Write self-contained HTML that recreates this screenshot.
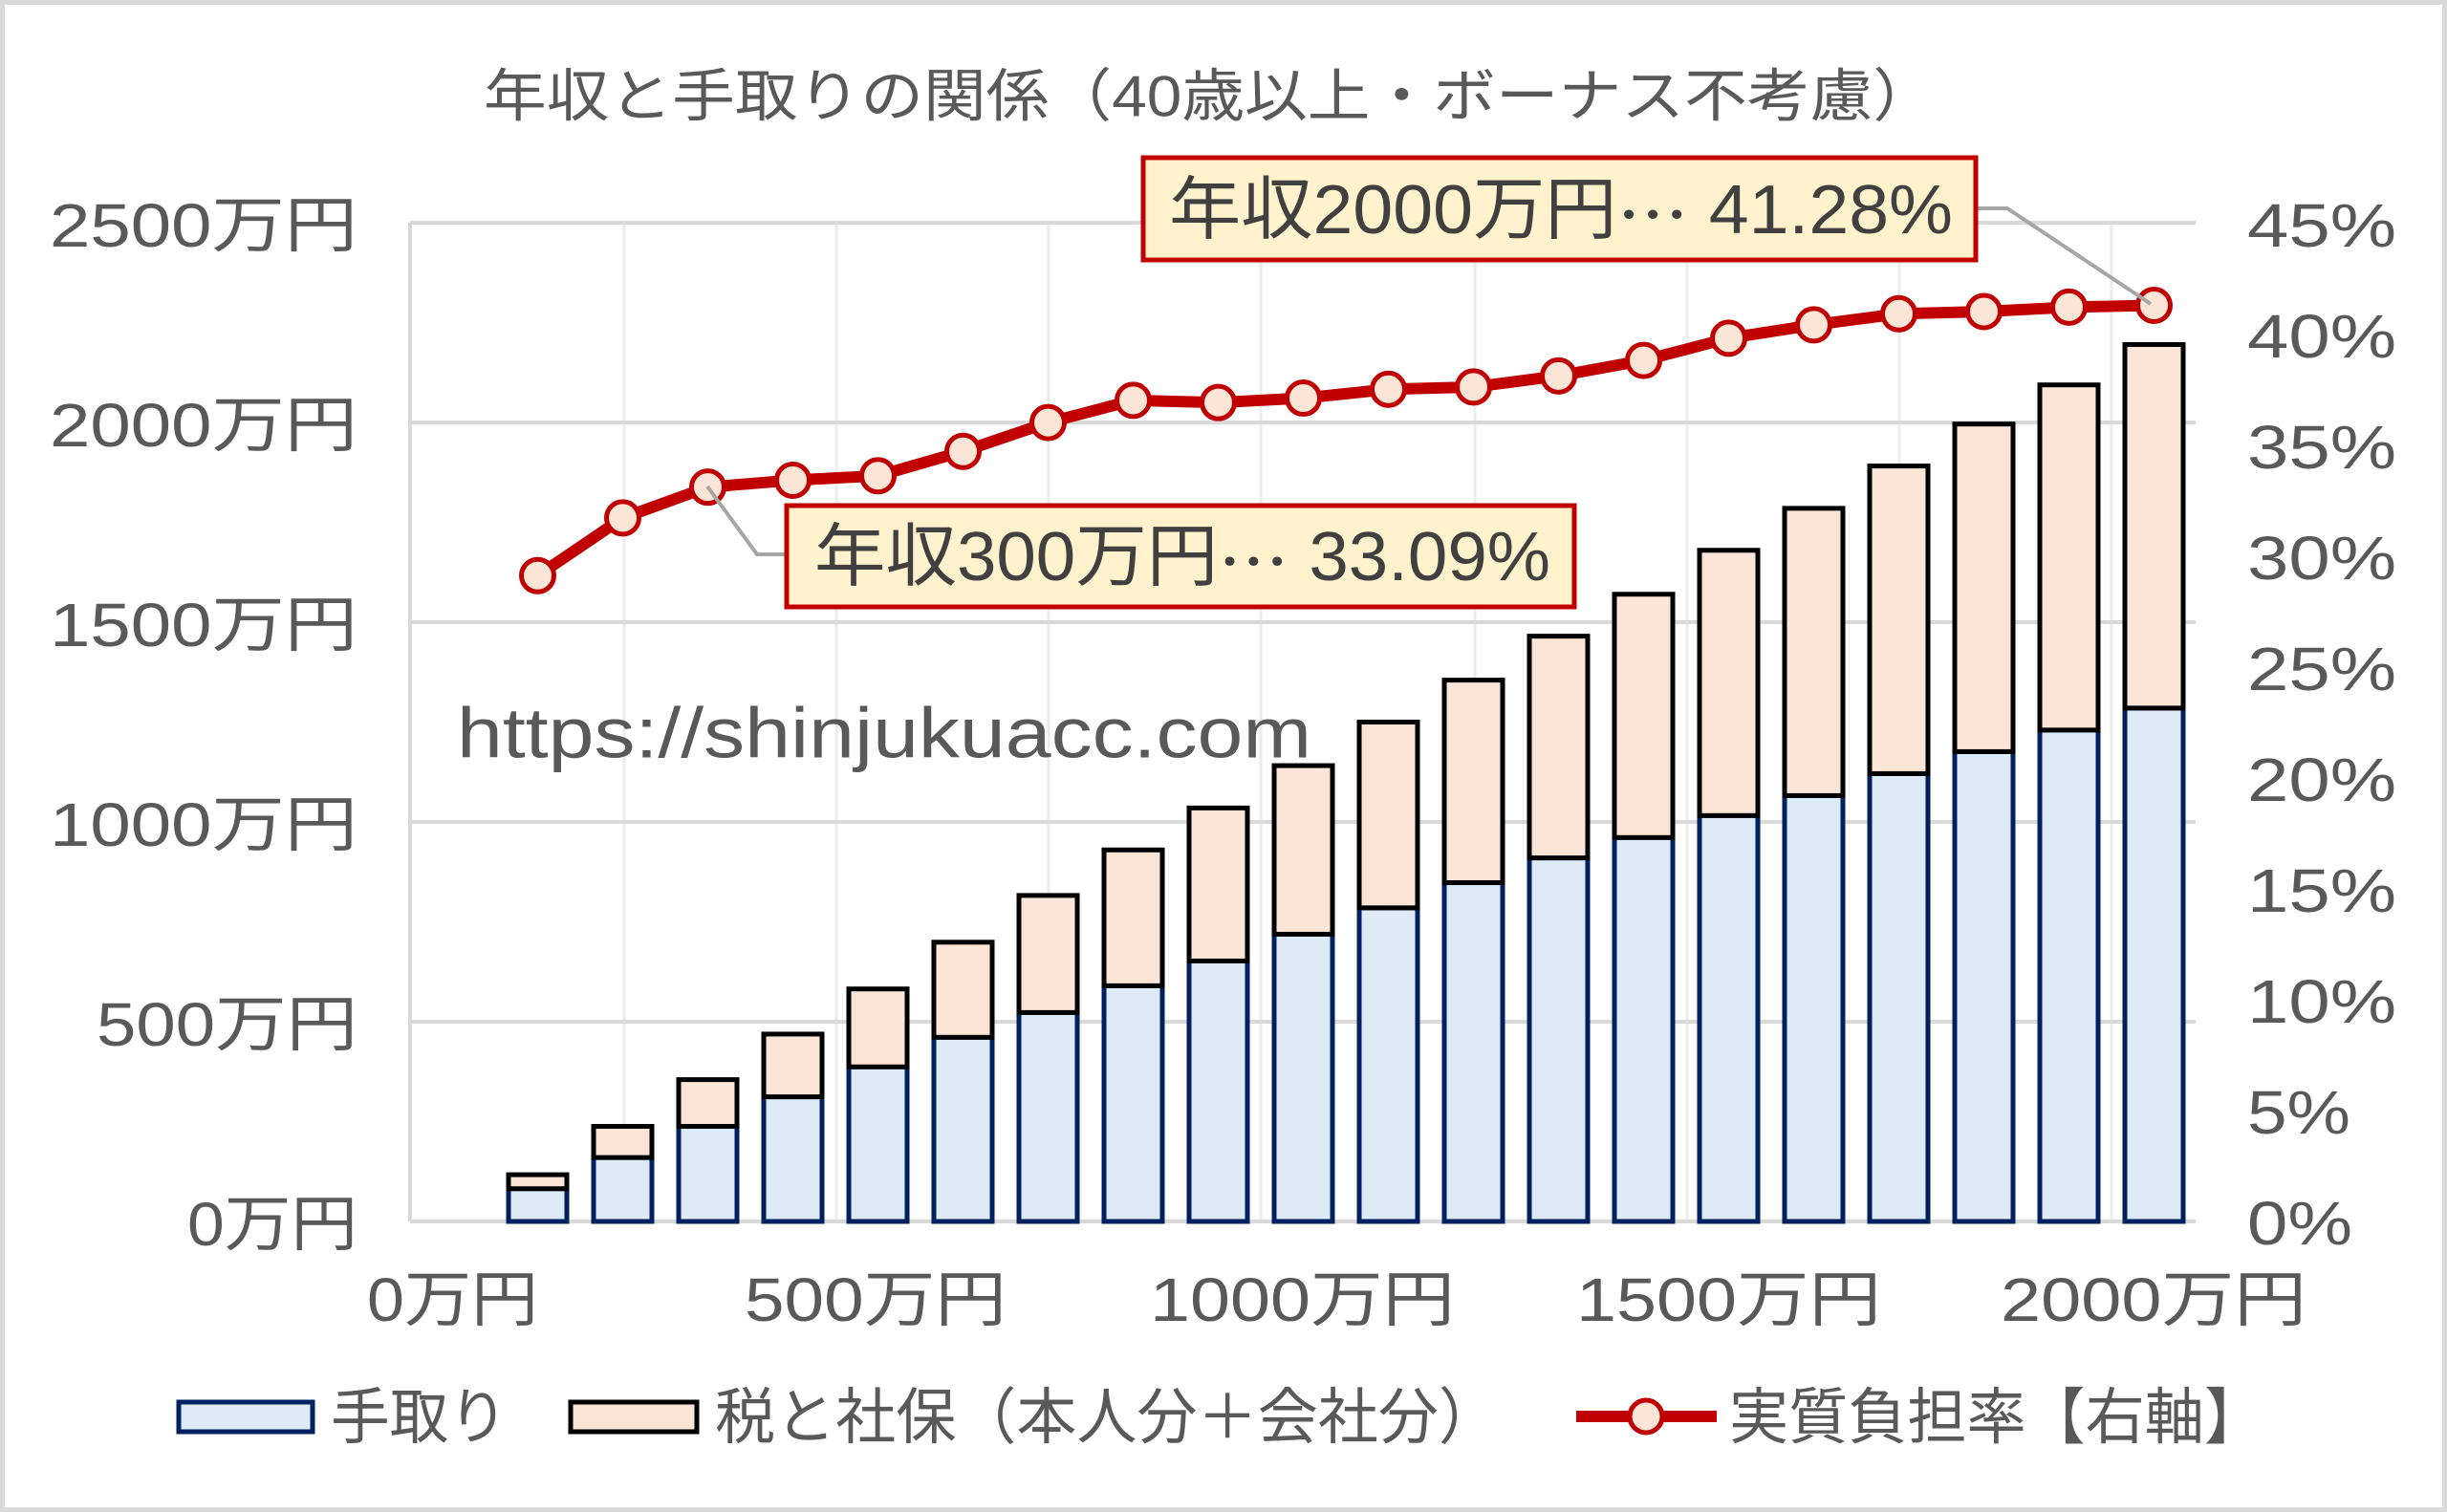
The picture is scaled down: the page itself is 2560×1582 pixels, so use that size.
<!DOCTYPE html>
<html><head><meta charset="utf-8"><style>
html,body{margin:0;padding:0;background:#fff;}
svg{display:block;}
text{font-family:"Liberation Sans","Noto Sans CJK JP",sans-serif;fill:#595959;}
.cjk{font-family:"Noto Sans CJK JP",sans-serif;}
</style></head><body>
<svg width="2560" height="1582" viewBox="0 0 2560 1582" xmlns="http://www.w3.org/2000/svg">
<rect x="2.5" y="2.5" width="2555" height="1577" fill="#fff" stroke="#d9d9d9" stroke-width="5"/>
<g stroke="#ececec" stroke-width="3">
<line x1="653" y1="233" x2="653" y2="1278"/><line x1="875" y1="233" x2="875" y2="1278"/>
<line x1="1097" y1="233" x2="1097" y2="1278"/><line x1="1319" y1="233" x2="1319" y2="1278"/>
<line x1="1543" y1="233" x2="1543" y2="1278"/><line x1="1765" y1="233" x2="1765" y2="1278"/>
<line x1="1987" y1="233" x2="1987" y2="1278"/><line x1="2209" y1="233" x2="2209" y2="1278"/>
</g>
<g stroke="#d9d9d9" stroke-width="4">
<line x1="429" y1="233" x2="2297" y2="233"/><line x1="429" y1="442" x2="2297" y2="442"/>
<line x1="429" y1="651" x2="2297" y2="651"/><line x1="429" y1="860" x2="2297" y2="860"/>
<line x1="429" y1="1069" x2="2297" y2="1069"/><line x1="429" y1="1278" x2="2297" y2="1278"/>
<line x1="429" y1="233" x2="429" y2="1278"/>
</g>
<g id="bars"></g>
<g id="line"></g>
<polyline points="740,509 792,580 821,580" fill="none" stroke="#a6a6a6" stroke-width="4"/>
<polyline points="2069,218 2100,218 2250,318" fill="none" stroke="#a6a6a6" stroke-width="4"/>
<rect x="1196" y="165" width="871" height="107" fill="#FFF2CC" stroke="#C00000" stroke-width="5"/>
<text x="1223" y="220" font-size="72" dominant-baseline="central" textLength="820" lengthAdjust="spacingAndGlyphs" style="fill:#404040">年収2000万円<tspan class="cjk">…</tspan> 41.28%</text>
<rect x="823" y="529" width="824" height="106" fill="#FFF2CC" stroke="#C00000" stroke-width="5"/>
<text x="852" y="583" font-size="72" dominant-baseline="central" textLength="770" lengthAdjust="spacingAndGlyphs" style="fill:#404040">年収300万円<tspan class="cjk">…</tspan> 33.09%</text>
<text x="506" y="101" font-size="60" dominant-baseline="central" textLength="1519" lengthAdjust="spacingAndGlyphs">年収と手取りの関係（40歳以上・ボーナス不考慮）</text>
<text x="478" y="767" font-size="74" dominant-baseline="central" textLength="894" lengthAdjust="spacingAndGlyphs">https://shinjukuacc.com</text>
<g font-size="64" dominant-baseline="central" text-anchor="end">
<text x="374" y="236" textLength="322" lengthAdjust="spacingAndGlyphs">2500万円</text>
<text x="374" y="445" textLength="322" lengthAdjust="spacingAndGlyphs">2000万円</text>
<text x="374" y="654" textLength="322" lengthAdjust="spacingAndGlyphs">1500万円</text>
<text x="374" y="863" textLength="322" lengthAdjust="spacingAndGlyphs">1000万円</text>
<text x="374" y="1072" textLength="273" lengthAdjust="spacingAndGlyphs">500万円</text>
<text x="374" y="1281" textLength="178" lengthAdjust="spacingAndGlyphs">0万円</text>
</g>
<g font-size="64" dominant-baseline="central">
<text x="2351" y="236" textLength="156" lengthAdjust="spacingAndGlyphs">45%</text>
<text x="2351" y="352" textLength="156" lengthAdjust="spacingAndGlyphs">40%</text>
<text x="2351" y="468" textLength="156" lengthAdjust="spacingAndGlyphs">35%</text>
<text x="2351" y="584" textLength="156" lengthAdjust="spacingAndGlyphs">30%</text>
<text x="2351" y="700" textLength="156" lengthAdjust="spacingAndGlyphs">25%</text>
<text x="2351" y="816" textLength="156" lengthAdjust="spacingAndGlyphs">20%</text>
<text x="2351" y="932" textLength="156" lengthAdjust="spacingAndGlyphs">15%</text>
<text x="2351" y="1048" textLength="156" lengthAdjust="spacingAndGlyphs">10%</text>
<text x="2351" y="1164" textLength="108" lengthAdjust="spacingAndGlyphs">5%</text>
<text x="2351" y="1280" textLength="110" lengthAdjust="spacingAndGlyphs">0%</text>
<text x="384" y="1360" textLength="179" lengthAdjust="spacingAndGlyphs">0万円</text>
<text x="779" y="1360" textLength="274" lengthAdjust="spacingAndGlyphs">500万円</text>
<text x="1203" y="1360" textLength="319" lengthAdjust="spacingAndGlyphs">1000万円</text>
<text x="1649" y="1360" textLength="319" lengthAdjust="spacingAndGlyphs">1500万円</text>
<text x="2093" y="1360" textLength="320" lengthAdjust="spacingAndGlyphs">2000万円</text>
<text x="346" y="1483" textLength="185" lengthAdjust="spacingAndGlyphs">手取り</text>
<text x="748" y="1483" textLength="820" lengthAdjust="spacingAndGlyphs">税と社保（本人分＋会社分）</text>
<text x="1809" y="1483" textLength="559" lengthAdjust="spacingAndGlyphs">実質負担率【右軸】</text>
</g>
<rect x="187" y="1467" width="140" height="31" fill="#DEEBF7" stroke="#002060" stroke-width="5"/>
<rect x="597" y="1467" width="132" height="31" fill="#FBE5D6" stroke="#000" stroke-width="5"/>
<line x1="1649" y1="1482" x2="1796" y2="1482" stroke="#C00000" stroke-width="12"/>
<circle cx="1722" cy="1482" r="17" fill="#FBE5D6" stroke="#C00000" stroke-width="5"/>
<script>
var tot=[117,238,355,469,582,699,816,930,1035,1141,1250,1355,1465,1570,1680,1785,1891,1996,2094,2195];
var net=[82,160,238,312,387,461,523,590,652,719,785,848,910,961,1016,1066,1121,1176,1230,1285];
var rate=[29.1,31.7,33.09,33.4,33.6,34.7,36.0,37.0,36.9,37.1,37.5,37.6,38.1,38.8,39.8,40.4,40.9,41.0,41.2,41.28];
var ns="http://www.w3.org/2000/svg",b=document.getElementById("bars"),l=document.getElementById("line");
function Y(v){return 1278-v*0.418;}
function mk(t,a,p){var e=document.createElementNS(ns,t);for(var k in a)e.setAttribute(k,a[k]);p.appendChild(e);return e;}
var pts=[];
for(var i=0;i<20;i++){
 var cx=429+89*(i+1.5),x=cx-30.5;
 mk("rect",{x:x,y:Y(net[i]),width:61,height:1278-Y(net[i]),fill:"#DEEBF7",stroke:"#002060","stroke-width":5},b);
 mk("rect",{x:x,y:Y(tot[i]),width:61,height:Y(net[i])-Y(tot[i]),fill:"#FBE5D6",stroke:"#000","stroke-width":5},b);
 pts.push([cx,1278-rate[i]*23.22]);
}
mk("polyline",{points:pts.map(function(p){return p.join(",")}).join(" "),fill:"none",stroke:"#C00000","stroke-width":12,"stroke-linejoin":"round"},l);
pts.forEach(function(p){mk("circle",{cx:p[0],cy:p[1],r:17,fill:"#FBE5D6",stroke:"#C00000","stroke-width":5},l);});
</script>
</svg>
</body></html>
